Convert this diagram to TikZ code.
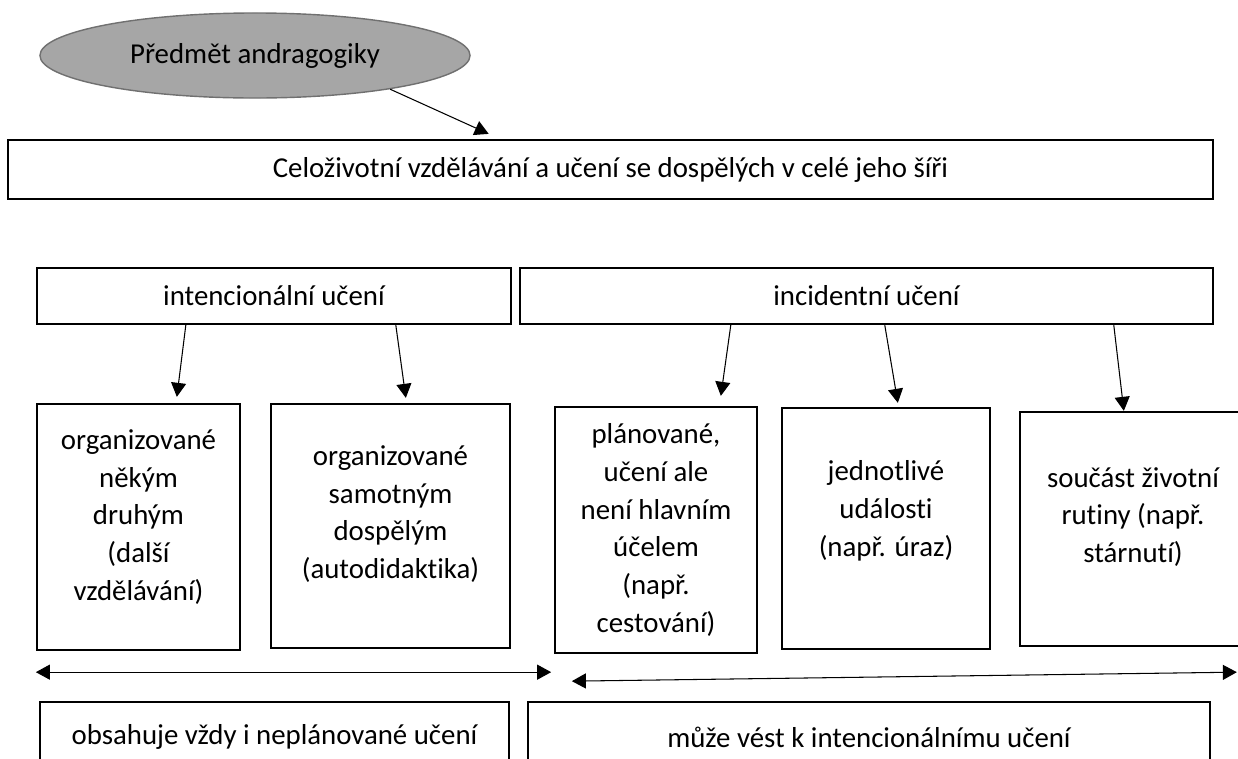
\documentclass[tikz,border=0pt]{standalone}
\usepackage{fontspec}
\setmainfont{Carlito}[Ligatures={NoCommon}]
\usetikzlibrary{calc,shapes,arrows.meta}
\definecolor{ellgray}{RGB}{166,166,166}
\definecolor{ellline}{RGB}{112,112,112}

\begin{document}
\begin{tikzpicture}[x=0.025cm,y=-0.025cm,
    box/.style={draw,line width=1.6pt,rectangle,inner sep=0pt,align=center},
    txt/.style={align=center,inner sep=0pt},
    arr/.style={line width=0.75pt,-{Triangle[length=0.35cm,width=0.375cm]}},
    dbl/.style={line width=0.75pt,{Triangle[length=0.35cm,width=0.375cm]}-{Triangle[length=0.35cm,width=0.375cm]}},
    every node/.style={font=\fontsize{20.5}{26.9}\selectfont}]

  \path[use as bounding box,clip] (0,0) rectangle (1238,758);

  % top: subject and its field
  \node[ellipse,draw=ellline,fill=ellgray,line width=1pt,inner sep=0pt,
    minimum width=10.75cm,minimum height=2.125cm] (subj) at (255,55.5) {Předmět andragogiky};
  \node[box,minimum width=30.125cm,minimum height=1.475cm] (field) at (610.5,169.5)
    {Celoživotní vzdělávání a učení se dospělých v celé jeho šíři};
  \draw[arr] (subj.-14) -- ($(field.north west)+(482,-5)$);

  % two kinds of learning
  \node[box,minimum width=11.85cm,minimum height=1.4cm] (intc) at (274,296) {intencionální učení};
  \node[box,minimum width=17.325cm,minimum height=1.4cm] (incd) at (866.5,296) {incidentní učení};

  \node[box,minimum width=5.075cm,minimum height=6.15cm,
    label={[txt,yshift=0.25cm]center:{organizované\\někým\\druhým\\(další\\vzdělávání)}}] (b1) at (138.5,527) {};
  \node[box,minimum width=5.975cm,minimum height=6.1cm,
    label={[txt,yshift=0.3cm]center:{organizované\\samotným\\dospělým\\(autodidaktika)}}] (b2) at (390.5,526) {};
  \node[box,minimum width=5.05cm,minimum height=6.15cm,
    label={[txt]center:{plánované,\\učení ale\\není hlavním\\účelem\\(např.\\cestování)}}] (b3) at (656,530) {};
  \node[box,minimum width=5.2cm,minimum height=6.025cm,
    label={[txt,yshift=0.45cm]center:{jednotlivé\\události\\(např. úraz)}}] (b4) at (886,528.5) {};
  \node[box,minimum width=5.65cm,minimum height=5.85cm,
    label={[txt,yshift=0.3cm]center:{součást životní\\rutiny (např.\\stárnutí)}}] (b5) at (1133,529) {};

  \draw[arr] ($(intc.south west)+(150,0)$) -- ($(b1.north west)+(141,-6)$);
  \draw[arr] ($(intc.south west)+(360,0)$) -- ($(b2.north west)+(136,-5)$);
  \draw[arr] ($(incd.south west)+(212,0)$) -- ($(b3.north west)+(167,-10)$);
  \draw[arr] ($(incd.south west)+(366,0)$) -- ($(b4.north west)+(117,-4)$);
  \draw[arr] ($(incd.south west)+(595,0)$) -- ($(b5.north west)+(105,0)$);

  % ranges
  \draw[dbl] ($(b1.south west)+(0,21)$) -- ($(b2.south east)+(40,23)$);
  \draw[dbl] ($(b3.south west)+(18,27)$) -- ($(b5.south west)+(218,25)$);

  \node[box,minimum width=11.725cm,minimum height=1.75cm] (pl1) at (274.5,737)
    {obsahuje vždy i neplánované učení};
  \node[box,minimum width=17.05cm,minimum height=1.75cm] (pl2) at (869,737)
    {může vést k intencionálnímu učení};

\end{tikzpicture}
\end{document}
